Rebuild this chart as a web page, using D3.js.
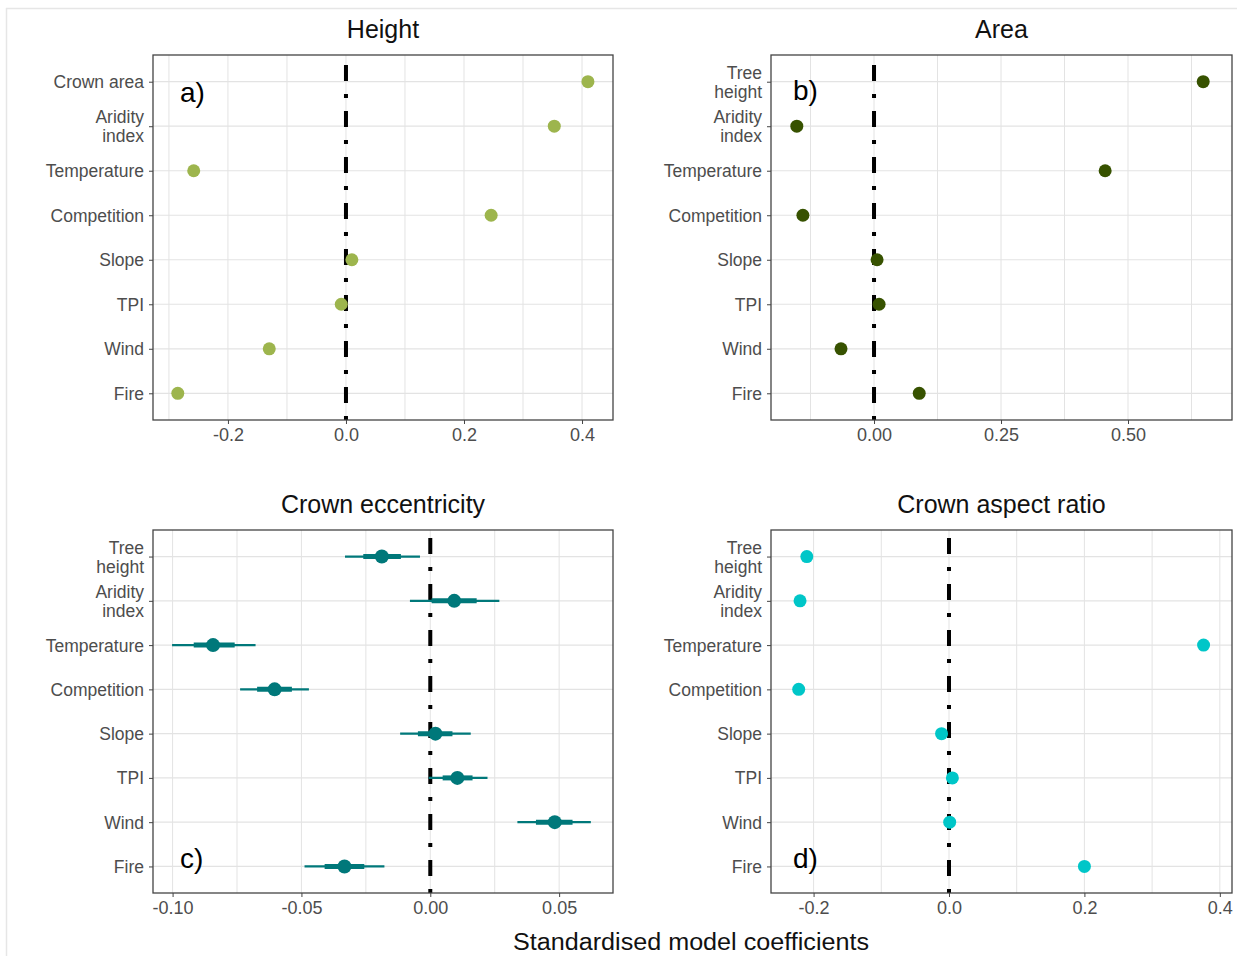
<!DOCTYPE html>
<html>
<head>
<meta charset="utf-8">
<script src="https://cdn.jsdelivr.net/npm/d3@7"></script>
<style>
    body { margin: 0; background: #fff; }
    text { font-family: "Liberation Sans", Arial, sans-serif; }
</style>
</head>
<body>
<div id="chart"></div>
<script>
// predictor names (first panel has crown area instead of tree height)
const heightPredictors = ["Crown area", "Aridity\nindex", "Temperature", "Competition", "Slope", "TPI", "Wind", "Fire"];
const otherPredictors = ["Tree\nheight", "Aridity\nindex", "Temperature", "Competition", "Slope", "TPI", "Wind", "Fire"];

// a) Height
const heightCoef = [0.41, 0.353, -0.258, 0.246, 0.01, -0.008, -0.13, -0.285];
const heightLimits = [-0.327, 0.4525];
const heightTicks = [-0.2, 0, 0.2, 0.4];
const heightTickLabels = ["-0.2", "0.0", "0.2", "0.4"];
const heightGrid = [-0.3, -0.2, -0.1, 0, 0.1, 0.2, 0.3, 0.4];

// b) Area
const areaCoef = [0.648, -0.152, 0.455, -0.14, 0.006, 0.01, -0.065, 0.089];
const areaLimits = [-0.2028, 0.7047];
const areaTicks = [0, 0.25, 0.5];
const areaTickLabels = ["0.00", "0.25", "0.50"];
const areaGrid = [-0.125, 0, 0.125, 0.25, 0.375, 0.5, 0.625];

// c) Crown eccentricity, with inner and outer intervals
const eccCoef = [-0.0188, 0.0093, -0.0843, -0.0604, 0.002, 0.0105, 0.0483, -0.0333];
const eccInnerLo = [-0.026, 0.0005, -0.0918, -0.0672, -0.0048, 0.0048, 0.041, -0.041];
const eccInnerHi = [-0.0114, 0.018, -0.0759, -0.0537, 0.0086, 0.0164, 0.0552, -0.0256];
const eccOuterLo = [-0.0331, -0.0079, -0.1002, -0.0738, -0.0117, -0.0006, 0.0338, -0.0488];
const eccOuterHi = [-0.004, 0.0268, -0.0678, -0.0471, 0.0157, 0.0222, 0.0623, -0.0178];
const eccLimits = [-0.1076, 0.0709];
const eccTicks = [-0.1, -0.05, 0, 0.05];
const eccTickLabels = ["-0.10", "-0.05", "0.00", "0.05"];
const eccGrid = [-0.1, -0.075, -0.05, -0.025, 0, 0.025, 0.05];

// d) Crown aspect ratio
const aspectCoef = [-0.21, -0.22, 0.376, -0.222, -0.011, 0.005, 0.001, 0.2];
const aspectLimits = [-0.2629, 0.418];
const aspectTicks = [-0.2, 0, 0.2, 0.4];
const aspectTickLabels = ["-0.2", "0.0", "0.2", "0.4"];
const aspectGrid = [-0.2, -0.1, 0, 0.1, 0.2, 0.3, 0.4];

const width = 1237;
const height = 956;

const svg = d3.select("#chart").append("svg")
    .attr("width", width)
    .attr("height", height);

// faint frame of the original figure
svg.append("line").attr("x1", 6.5).attr("x2", 6.5).attr("y1", 8).attr("y2", height)
    .attr("stroke", "#e6e6e6").attr("stroke-width", 1.5);
svg.append("line").attr("x1", 6).attr("x2", width).attr("y1", 8.5).attr("y2", 8.5)
    .attr("stroke", "#e6e6e6").attr("stroke-width", 1.5);

class CoefPanel {
    constructor(cfg) {
        this.cfg = cfg;
        this.initVis();
    }

    initVis() {
        let vis = this;
        let c = vis.cfg;

        vis.g = svg.append("g");

        vis.x = d3.scaleLinear().domain(c.limits).range([c.x0, c.x1]);
        vis.y = d3.scalePoint().domain(c.labels).range([c.y0, c.y1]).padding(0.6);

        // grid
        vis.g.selectAll(".vgrid").data(c.grid).enter().append("line")
            .attr("x1", d => vis.x(d)).attr("x2", d => vis.x(d))
            .attr("y1", c.y0).attr("y2", c.y1)
            .attr("stroke", "#e3e3e3").attr("stroke-width", 1);
        vis.g.selectAll(".hgrid").data(c.labels).enter().append("line")
            .attr("x1", c.x0).attr("x2", c.x1)
            .attr("y1", d => vis.y(d)).attr("y2", d => vis.y(d))
            .attr("stroke", "#e3e3e3").attr("stroke-width", 1.2);

        // zero line, pattern runs from the bottom like R does
        vis.g.append("line")
            .attr("x1", vis.x(0)).attr("x2", vis.x(0))
            .attr("y1", c.y1).attr("y2", c.y0)
            .attr("stroke", "#000").attr("stroke-width", 4)
            .attr("stroke-dasharray", "4,13,16,13");

        let rows = c.labels.map((l, i) => ({label: l, value: c.values[i], i: i}));

        if (c.outerLo) {
            vis.g.selectAll(".outer").data(rows).enter().append("line")
                .attr("x1", d => vis.x(c.outerLo[d.i])).attr("x2", d => vis.x(c.outerHi[d.i]))
                .attr("y1", d => vis.y(d.label)).attr("y2", d => vis.y(d.label))
                .attr("stroke", c.color).attr("stroke-width", 2.2);
            vis.g.selectAll(".inner").data(rows).enter().append("line")
                .attr("x1", d => vis.x(c.innerLo[d.i])).attr("x2", d => vis.x(c.innerHi[d.i]))
                .attr("y1", d => vis.y(d.label)).attr("y2", d => vis.y(d.label))
                .attr("stroke", c.color).attr("stroke-width", 5);
        }

        vis.g.selectAll(".dot").data(rows).enter().append("circle")
            .attr("cx", d => vis.x(d.value))
            .attr("cy", d => vis.y(d.label))
            .attr("r", c.r)
            .attr("fill", c.color);

        // panel border
        vis.g.append("rect")
            .attr("x", c.x0).attr("y", c.y0)
            .attr("width", c.x1 - c.x0).attr("height", c.y1 - c.y0)
            .attr("fill", "none").attr("stroke", "#444").attr("stroke-width", 1.3);

        // x axis
        let xAxis = d3.axisBottom(vis.x)
            .tickValues(c.ticks)
            .tickFormat((d, i) => c.tickLabels[i])
            .tickSize(4)
            .tickPadding(4);
        let xg = vis.g.append("g")
            .attr("transform", `translate(0,${c.y1})`)
            .call(xAxis);
        xg.select(".domain").remove();
        xg.selectAll(".tick line").attr("stroke", "#444");
        xg.selectAll(".tick text").attr("fill", "#4d4d4d").attr("font-size", 18)
            .attr("font-family", "Liberation Sans, Arial, sans-serif");

        // y axis, labels may be two lines
        let yAxis = d3.axisLeft(vis.y).tickSize(4).tickFormat("");
        let yg = vis.g.append("g")
            .attr("transform", `translate(${c.x0},0)`)
            .call(yAxis);
        yg.select(".domain").remove();
        yg.selectAll(".tick line").attr("stroke", "#444");
        yg.selectAll(".tick").each(function(d) {
            let lines = d.split("\n");
            let t = d3.select(this).append("text")
                .attr("x", -9)
                .attr("text-anchor", "end")
                .attr("fill", "#4d4d4d")
                .attr("font-size", 17.5)
                .attr("font-family", "Liberation Sans, Arial, sans-serif");
            lines.forEach((line, k) => {
                t.append("tspan")
                    .attr("x", -9)
                    .attr("y", (k - (lines.length - 1) / 2) * 19 + 6)
                    .text(line);
            });
        });

        // title and letter
        vis.g.append("text")
            .attr("x", (c.x0 + c.x1) / 2)
            .attr("y", c.y0 - 17)
            .attr("text-anchor", "middle")
            .attr("font-size", 25)
            .attr("fill", "#111")
            .text(c.title);

        vis.g.append("text")
            .attr("x", c.x0 + c.letterDx)
            .attr("y", c.letterY)
            .attr("font-family", "Lato, 'Open Sans', sans-serif")
            .attr("font-size", 28)
            .attr("fill", "#000")
            .text(c.letter);
    }
}

new CoefPanel({
    title: "Height", letter: "a)", labels: heightPredictors, values: heightCoef,
    limits: heightLimits, ticks: heightTicks, tickLabels: heightTickLabels, grid: heightGrid,
    color: "#9db54d", r: 6.5,
    x0: 153, x1: 613, y0: 55, y1: 420, letterDx: 27, letterY: 102
});

new CoefPanel({
    title: "Area", letter: "b)", labels: otherPredictors, values: areaCoef,
    limits: areaLimits, ticks: areaTicks, tickLabels: areaTickLabels, grid: areaGrid,
    color: "#375200", r: 6.5,
    x0: 771, x1: 1232, y0: 55, y1: 420, letterDx: 22, letterY: 100
});

new CoefPanel({
    title: "Crown eccentricity", letter: "c)", labels: otherPredictors, values: eccCoef,
    innerLo: eccInnerLo, innerHi: eccInnerHi, outerLo: eccOuterLo, outerHi: eccOuterHi,
    limits: eccLimits, ticks: eccTicks, tickLabels: eccTickLabels, grid: eccGrid,
    color: "#00787a", r: 7,
    x0: 153, x1: 613, y0: 530, y1: 893, letterDx: 27, letterY: 868
});

new CoefPanel({
    title: "Crown aspect ratio", letter: "d)", labels: otherPredictors, values: aspectCoef,
    limits: aspectLimits, ticks: aspectTicks, tickLabels: aspectTickLabels, grid: aspectGrid,
    color: "#00c6c8", r: 6.5,
    x0: 771, x1: 1232, y0: 530, y1: 893, letterDx: 22, letterY: 868
});

svg.append("text")
    .attr("x", 691)
    .attr("y", 950)
    .attr("text-anchor", "middle")
    .attr("font-size", 23)
    .attr("textLength", 356)
    .attr("lengthAdjust", "spacingAndGlyphs")
    .attr("fill", "#111")
    .text("Standardised model coefficients");
</script>
</body>
</html>
